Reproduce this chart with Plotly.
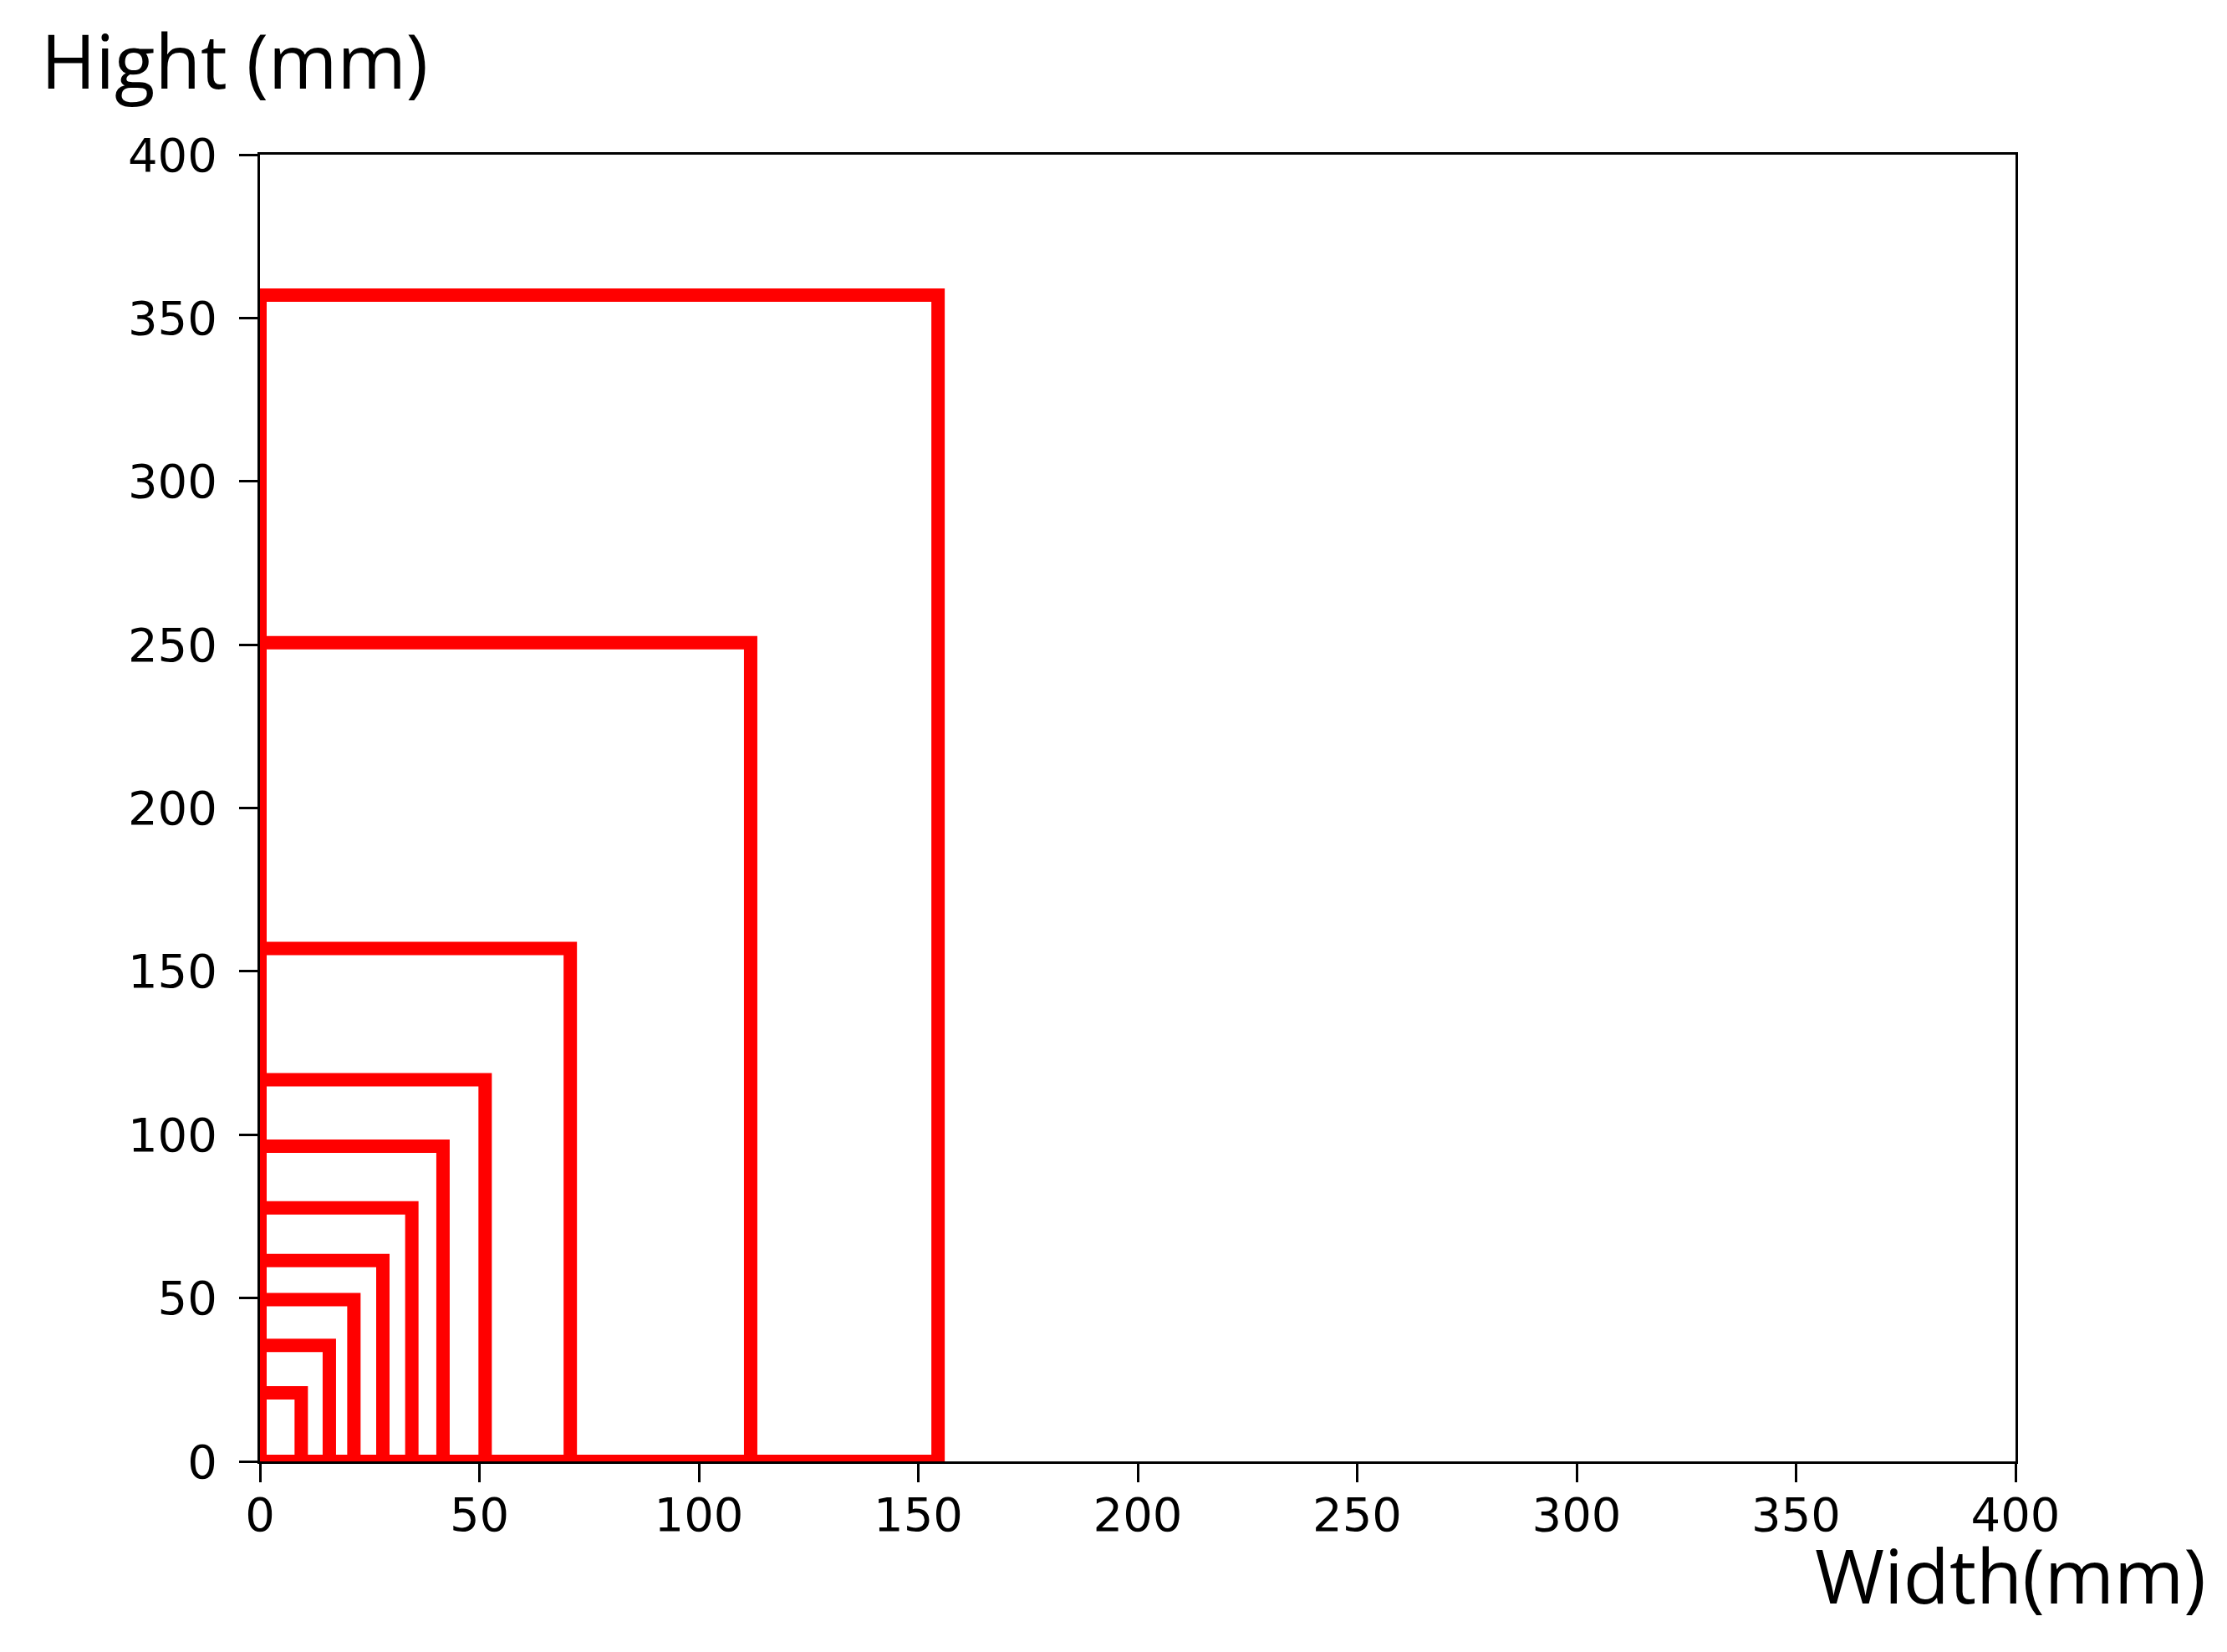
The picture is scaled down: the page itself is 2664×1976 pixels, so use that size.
import plotly.graph_objects as go

# Rectangle sizes (mm)
widths = [9.4, 15.8, 21.4, 28.0, 34.6, 41.7, 51.3, 70.7, 111.8, 154.5]
heights = [21.0, 35.5, 49.5, 61.5, 77.6, 96.5, 116.8, 157.0, 250.6, 357.0]

x_ticks = [0, 50, 100, 150, 200, 250, 300, 350, 400]
y_ticks = [0, 50, 100, 150, 200, 250, 300, 350, 400]

W, H = 2664, 1976
L, R, T, B = 303, 261, 177, 236

fig = go.Figure()
for w, h in zip(widths, heights):
    fig.add_trace(go.Scatter(
        x=[0, w, w, 0, 0], y=[0, 0, h, h, 0],
        mode="lines", line=dict(color="#ff0000", width=16),
        showlegend=False, hoverinfo="skip"))

axis_common = dict(
    range=[0, 400], showgrid=False, zeroline=False,
    showline=True, linecolor="black", linewidth=3, mirror=True,
    ticks="outside", ticklen=22, tickwidth=3, tickcolor="black",
    tickfont=dict(family="DejaVu Sans", size=56, color="black"),
)
fig.update_xaxes(**axis_common, tickvals=x_ticks, ticktext=[str(v) for v in x_ticks], ticklabelstandoff=-9)
fig.update_yaxes(**axis_common, tickvals=y_ticks, ticktext=[str(v) for v in y_ticks], ticklabelstandoff=15)

pw = W - L - R
ph = H - T - B
fig.add_annotation(text="Hight (mm)", xref="paper", yref="paper",
                   x=(39 - L) / pw, y=(H - B - 64) / ph, xanchor="left", yanchor="middle",
                   showarrow=False, font=dict(family="Open Sans", size=89, color="black"))
fig.add_annotation(text="Width(mm)", xref="paper", yref="paper",
                   x=(2633 - L) / pw, y=(H - B - 1875) / ph, xanchor="right", yanchor="middle",
                   showarrow=False, font=dict(family="Open Sans", size=90, color="black"))

fig.update_layout(width=W, height=H, margin=dict(l=L, r=R, t=T, b=B),
                  paper_bgcolor="white", plot_bgcolor="white")
fig.write_html("out.html")
